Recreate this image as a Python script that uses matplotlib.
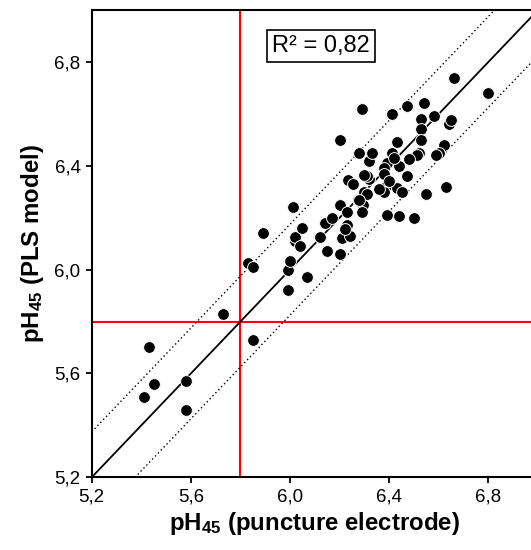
import matplotlib
matplotlib.use("Agg")
import matplotlib.pyplot as plt
import numpy as np

plt.rcParams['font.family'] = ['Liberation Sans', 'DejaVu Sans']
plt.rcParams['mathtext.fontset'] = 'custom'
plt.rcParams['mathtext.rm'] = 'Liberation Sans'
plt.rcParams['mathtext.bf'] = 'Liberation Sans:bold'
plt.rcParams['mathtext.it'] = 'Liberation Sans:italic'

# Data
x_puncture = [5.41, 5.43, 5.45, 5.58, 5.58, 5.73, 5.85,
              5.83, 5.85, 5.89,
              5.99, 5.99, 6.00, 6.01, 6.02, 6.02, 6.04, 6.05, 6.07,
              6.12, 6.14, 6.15, 6.17, 6.20, 6.21, 6.24, 6.23, 6.22,
              6.20, 6.23, 6.20, 6.235, 6.255, 6.275, 6.295, 6.30, 6.31, 6.29, 6.32, 6.32, 6.28, 6.33, 6.31, 6.30,
              6.29, 6.41, 6.47, 6.54, 6.58, 6.53, 6.645, 6.64, 6.65, 6.53, 6.53, 6.62, 6.60, 6.59, 6.52, 6.51,
              6.43, 6.41, 6.48, 6.39, 6.44, 6.38, 6.38, 6.47, 6.39, 6.38, 6.43, 6.45, 6.28, 6.55, 6.63, 6.39, 6.44, 6.50, 6.66, 6.80,
              6.40, 6.36, 6.42]
y_pls = [5.51, 5.70, 5.56, 5.57, 5.46, 5.83, 5.73,
         6.025, 6.01, 6.14,
         5.92, 6.00, 6.035, 6.24, 6.11, 6.125, 6.09, 6.16, 5.97,
         6.125, 6.18, 6.07, 6.20, 6.06, 6.12, 6.13, 6.17, 6.155,
         6.25, 6.22, 6.50, 6.345, 6.33, 6.27, 6.25, 6.30, 6.29, 6.22, 6.35, 6.42, 6.45, 6.45, 6.36, 6.365,
         6.62, 6.60, 6.63, 6.64, 6.59, 6.58, 6.57, 6.56, 6.575, 6.54, 6.50, 6.48, 6.45, 6.44, 6.45, 6.44,
         6.49, 6.45, 6.425, 6.41, 6.40, 6.39, 6.37, 6.36, 6.325, 6.30, 6.315, 6.30, 6.27, 6.29, 6.32, 6.21, 6.205, 6.20, 6.74, 6.68,
         6.34, 6.31, 6.43]

axis_min, axis_max = 5.2, 7.0
threshold = 5.8
band = 0.175
r2_text = "R² = 0,82"
tick_values = [5.2, 5.6, 6.0, 6.4, 6.8]
tick_labels = ["5,2", "5,6", "6,0", "6,4", "6,8"]

fig = plt.figure(figsize=(5.31, 5.5), dpi=100)
ax = fig.add_axes([0.1727, 0.1322, 0.8405, 0.8496])

lims = np.array([axis_min, axis_max])
ax.plot(lims, lims, color='black', lw=1.3, zorder=2)
ax.plot(lims, lims + band, color='black', lw=1.0, ls=(0, (1, 2)), zorder=2)
ax.plot(lims, lims - band, color='black', lw=1.0, ls=(0, (1, 2)), zorder=2)
ax.axvline(threshold, color='red', lw=1.5, zorder=1)
ax.axhline(threshold, color='red', lw=1.5, zorder=1)

ax.scatter(x_puncture, y_pls, s=72, c='black', edgecolors='white', linewidths=0.7, zorder=3)

ax.set_xlim(axis_min, axis_max)
ax.set_ylim(axis_min, axis_max)
ax.set_xticks(tick_values)
ax.set_xticklabels(tick_labels)
ax.set_yticks(tick_values)
ax.set_yticklabels(tick_labels)
ax.tick_params(direction='out', length=4, width=1.3, labelsize=13.5, pad=4, colors='black')

for sp in ax.spines.values():
    sp.set_linewidth(1.5)

ax.set_xlabel(r"$\mathbf{pH_{45}}$ (puncture electrode)", fontsize=17.3, fontweight='bold', labelpad=3)
ax.set_ylabel(r"$\mathbf{pH_{45}}$ (PLS model)", fontsize=17.3, fontweight='bold', labelpad=6)

ax.text(6.125, 6.862, r2_text, fontsize=17, ha='center', va='center',
        bbox=dict(boxstyle='square,pad=0.2', facecolor='white', edgecolor='black', linewidth=1.2), zorder=4)

fig.savefig("out.png", dpi=100)
